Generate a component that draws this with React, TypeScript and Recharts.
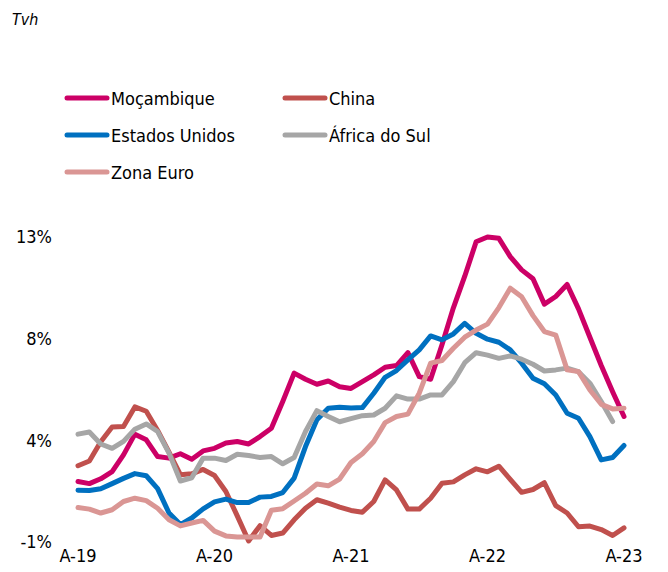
import { LineChart, Line, XAxis, YAxis } from 'recharts';

// monthly, Apr-19 .. Apr-23
const monthNames = ['Abr', 'Mai', 'Jun', 'Jul', 'Ago', 'Set', 'Out', 'Nov', 'Dez', 'Jan', 'Fev', 'Mar'];
const months: string[] = [];
for (let i = 0; i < 49; i++) {
  const yy = 19 + Math.floor((i + 3) / 12);
  months.push(`${monthNames[i % 12]}-${yy}`);
}
const xTicks = ['Abr-19', 'Abr-20', 'Abr-21', 'Abr-22', 'Abr-23'];
const yTicks = [-1, 11 / 3, 25 / 3, 13];

const mocambique = [1.78, 1.68, 1.9, 2.23, 3.0, 3.95, 3.69, 2.92, 2.85, 3.05, 2.8, 3.18, 3.3, 3.54, 3.61, 3.5, 3.84, 4.22, 5.45, 6.75, 6.47, 6.24, 6.39, 6.13, 6.05, 6.36, 6.67, 7.02, 7.1, 7.69, 6.59, 6.47, 8.05, 9.75, 11.2, 12.78, 13.0, 12.94, 12.1, 11.49, 11.08, 9.92, 10.27, 10.82, 9.7, 8.4, 7.1, 5.9, 4.76];
const china = [2.5, 2.72, 3.6, 4.28, 4.3, 5.2, 5.0, 4.12, 3.12, 2.09, 2.13, 2.33, 2.05, 1.32, 0.2, -0.95, -0.25, -0.7, -0.59, 0.02, 0.55, 0.94, 0.78, 0.6, 0.45, 0.37, 0.86, 1.85, 1.39, 0.51, 0.51, 1.01, 1.7, 1.76, 2.08, 2.36, 2.22, 2.48, 1.87, 1.28, 1.41, 1.72, 0.67, 0.33, -0.3, -0.27, -0.43, -0.7, -0.35];
const estadosUnidos = [1.38, 1.36, 1.44, 1.68, 1.92, 2.14, 2.04, 1.45, 0.33, -0.2, 0.1, 0.52, 0.84, 0.97, 0.81, 0.81, 1.06, 1.09, 1.27, 1.93, 3.38, 4.61, 5.14, 5.19, 5.15, 5.17, 5.83, 6.56, 6.87, 7.36, 7.82, 8.46, 8.28, 8.55, 9.04, 8.58, 8.31, 8.17, 7.82, 7.21, 6.52, 6.26, 5.75, 4.91, 4.68, 3.84, 2.77, 2.88, 3.43];
const africaDoSul = [3.95, 4.05, 3.5, 3.3, 3.62, 4.18, 4.42, 4.07, 3.08, 1.8, 1.95, 2.85, 2.85, 2.74, 3.03, 2.97, 2.88, 2.92, 2.59, 2.88, 4.07, 5.03, 4.76, 4.52, 4.66, 4.8, 4.83, 5.14, 5.71, 5.56, 5.56, 5.75, 5.75, 6.36, 7.23, 7.69, 7.58, 7.43, 7.54, 7.39, 7.16, 6.85, 6.9, 6.98, 6.82, 6.29, 5.45, 4.53, null];
const zonaEuro = [0.58, 0.51, 0.33, 0.48, 0.86, 1.01, 0.9, 0.55, 0.02, -0.26, -0.13, -0.01, -0.5, -0.72, -0.77, -0.77, -0.77, 0.46, 0.53, 0.88, 1.24, 1.66, 1.58, 1.89, 2.65, 3.05, 3.61, 4.48, 4.76, 4.87, 5.83, 7.21, 7.33, 7.89, 8.4, 8.73, 9.0, 9.76, 10.65, 10.26, 9.39, 8.66, 8.5, 6.9, 6.82, 5.98, 5.32, 5.11, 5.14];

const series = [
  { key: 'moz', name: 'Moçambique', color: '#CC0066', values: mocambique },
  { key: 'chn', name: 'China', color: '#C0504D', values: china },
  { key: 'eua', name: 'Estados Unidos', color: '#0070C0', values: estadosUnidos },
  { key: 'afs', name: 'África do Sul', color: '#A6A6A6', values: africaDoSul },
  { key: 'ze', name: 'Zona Euro', color: '#DA9694', values: zonaEuro },
];

const data = months.map((m, i) => {
  const row: Record<string, string | number | null> = { m };
  series.forEach((s) => (row[s.key] = s.values[i]));
  return row;
});

const FONT = '"DejaVu Sans Condensed", "DejaVu Sans", sans-serif';

// legend slots: [left, top-center]
const legendPos = [
  [64, 98],
  [282, 98],
  [64, 135],
  [282, 135],
  [64, 172],
];

export default function App() {
  return (
    <div style={{ position: 'absolute', left: 0, top: 0, width: 668, height: 572, background: '#fff', fontFamily: FONT }}>
      <div style={{ position: 'absolute', left: 12, top: 10, fontSize: 16, fontStyle: 'italic', color: '#000' }}>Tvh</div>

      {series.map((s, i) => (
        <div
          key={s.key}
          style={{ position: 'absolute', left: legendPos[i][0], top: legendPos[i][1] - 11, height: 22, display: 'flex', alignItems: 'center' }}
        >
          <svg width={46} height={10}>
            <line x1={3} y1={5} x2={43} y2={5} stroke={s.color} strokeWidth={5} strokeLinecap="round" />
          </svg>
          <span style={{ fontSize: 18, color: '#000', marginLeft: 1 }}>{s.name}</span>
        </div>
      ))}

      <div style={{ position: 'absolute', left: 0, top: 0 }}>
        <LineChart width={668} height={572} data={data} margin={{ top: 237, right: 44, bottom: 0, left: 0 }}>
          <XAxis
            dataKey="m"
            ticks={xTicks}
            interval={0}
            axisLine={false}
            tickLine={false}
            tickSize={0}
            tickMargin={7}
            height={30}
            tick={{ fill: '#000', fontSize: 18, fontFamily: FONT }}
            tickFormatter={(v: string) => `A-${v.slice(4)}`}
          />
          <YAxis
            domain={[-1, 13]}
            ticks={yTicks}
            width={78}
            axisLine={false}
            tickLine={false}
            tickSize={0}
            tickMargin={26}
            tick={{ fill: '#000', fontSize: 18, fontFamily: FONT }}
            tickFormatter={(v: number) => `${v.toFixed(0)}%`}
          />
          {series.map((s) => (
            <Line
              key={s.key}
              type="linear"
              dataKey={s.key}
              name={s.name}
              stroke={s.color}
              strokeWidth={5}
              strokeLinejoin="round"
              strokeLinecap="round"
              dot={false}
              activeDot={false}
              isAnimationActive={false}
            />
          ))}
        </LineChart>
      </div>
    </div>
  );
}
